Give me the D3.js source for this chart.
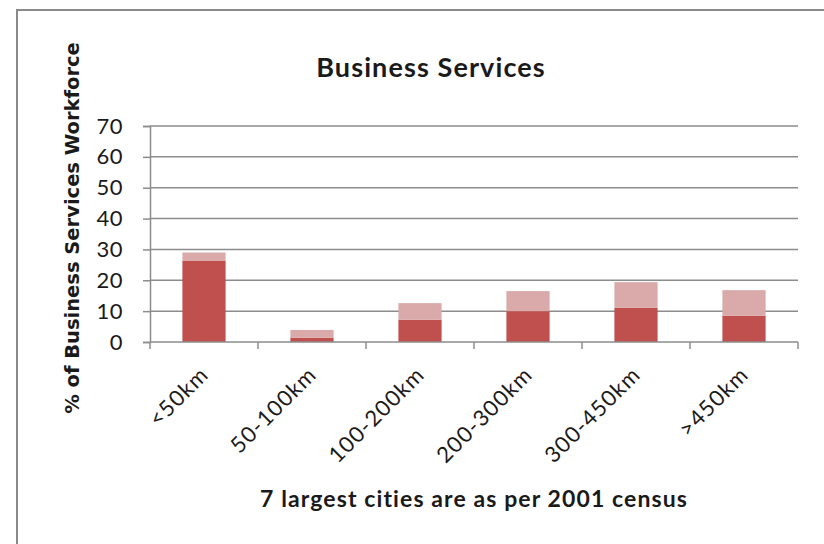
<!DOCTYPE html>
<html><head><meta charset="utf-8">
<script src="https://cdn.jsdelivr.net/npm/d3@7"></script>
<style>body{margin:0;background:#fff}svg{display:block}</style>
</head><body>
<script>
const categories = ["<50km","50-100km","100-200km","200-300km","300-450km",">450km"];
const baseValues = [26.4, 1.4, 7.2, 10.0, 11.1, 8.5];
const extraValues = [2.6, 2.5, 5.4, 6.5, 8.3, 8.3];
const yTicks = [0,10,20,30,40,50,60,70];
const title = "Business Services";
const yTitle = "% of Business Services Workforce";
const xTitle = "7 largest cities are as per 2001 census";

const W = 824, H = 544;
const svg = d3.select("body").append("svg").attr("width", W).attr("height", H);
const m = {left:150, right:26, top:126, bottom:202};
const x = d3.scaleBand().domain(categories).range([m.left, W - m.right]).paddingInner(0.6).paddingOuter(0.3);
const y = d3.scaleLinear().domain([0,70]).range([H - m.bottom, m.top]);

svg.append("rect").attr("x",17).attr("y",10).attr("width",W).attr("height",H).attr("fill","none").attr("stroke","#8a8a8a").attr("stroke-width",2);

svg.append("text").attr("x",431).attr("y",77).attr("text-anchor","middle")
  .style("font-family","Lato").style("font-weight","bold").style("font-size","27px").style("letter-spacing","1.1px")
  .attr("fill","#1a1a1a").text(title);

// gridlines
svg.append("g").selectAll("line").data(yTicks.filter(d=>d>0)).join("line")
  .attr("x1",m.left).attr("x2",W-m.right).attr("y1",d=>y(d)).attr("y2",d=>y(d))
  .attr("stroke","#8c8c8c").attr("stroke-width",1.5);

// y axis
const ya = svg.append("g").attr("transform",`translate(${m.left},0)`)
  .call(d3.axisLeft(y).tickValues(yTicks).tickSize(7).tickPadding(20));
ya.select(".domain").attr("stroke","#8c8c8c").attr("stroke-width",1.5);
ya.selectAll(".tick line").attr("stroke","#8c8c8c").attr("stroke-width",1.5);
ya.selectAll("text").style("font-family","Lato").style("font-size","22px").style("letter-spacing","0.5px").attr("fill","#1a1a1a");

// bars
const stack = categories.map((c,i)=>({c, b:baseValues[i], e:extraValues[i]}));
svg.append("g").selectAll("rect").data(stack).join("rect")
  .attr("x",d=>x(d.c)).attr("width",x.bandwidth())
  .attr("y",d=>y(d.b)).attr("height",d=>y(0)-y(d.b)).attr("fill","#C0504D");
svg.append("g").selectAll("rect").data(stack).join("rect")
  .attr("x",d=>x(d.c)).attr("width",x.bandwidth())
  .attr("y",d=>y(d.b+d.e)).attr("height",d=>y(d.b)-y(d.b+d.e)).attr("fill","#D9AAA9");

// x axis
const bounds = d3.range(categories.length+1).map(i=>m.left + i*(W-m.left-m.right)/categories.length);
const xa = svg.append("g");
xa.append("line").attr("x1",m.left).attr("x2",W-m.right).attr("y1",y(0)).attr("y2",y(0)).attr("stroke","#8c8c8c").attr("stroke-width",1.5);
xa.selectAll("line.tk").data(bounds).join("line").attr("class","tk")
  .attr("x1",d=>d).attr("x2",d=>d).attr("y1",y(0)).attr("y2",y(0)+7).attr("stroke","#8c8c8c").attr("stroke-width",1.5);
xa.selectAll("text").data(categories).join("text")
  .attr("transform",d=>`translate(${x(d)+x.bandwidth()/2+6},${y(0)+34}) rotate(-45)`)
  .attr("text-anchor","end")
  .style("font-family","Lato").style("font-size","22px").style("letter-spacing","1.2px").attr("fill","#1a1a1a").text(d=>d);

svg.append("text").attr("x",474).attr("y",507).attr("text-anchor","middle")
  .style("font-family","Lato").style("font-weight","bold").style("font-size","23px").style("letter-spacing","1.1px")
  .attr("fill","#1a1a1a").text(xTitle);

svg.append("text").attr("transform","translate(79,228) rotate(-90)").attr("text-anchor","middle")
  .style("font-family","DejaVu Sans").style("font-weight","bold").style("font-size","19.5px").attr("fill","#1a1a1a").text(yTitle);
</script>
</body></html>
